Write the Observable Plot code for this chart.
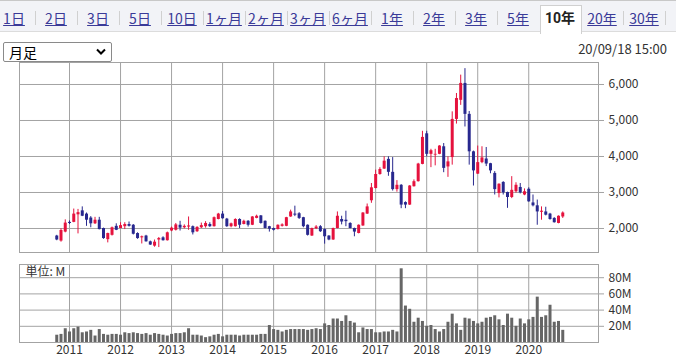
<!DOCTYPE html>
<html><head><meta charset="utf-8">
<script src="https://cdn.jsdelivr.net/npm/d3@7"></script>
<script src="https://cdn.jsdelivr.net/npm/@observablehq/plot@0.6"></script>
<style>
html,body{margin:0;padding:0;background:#fff;}
body{width:676px;height:357px;overflow:hidden;position:relative;font-family:"Noto Sans CJK JP","Noto Sans",sans-serif;color:#333;}
#tabs{position:absolute;left:0;top:0;width:676px;height:32px;background:#f2f3f7;border-top:1px solid #c8c8c8;border-bottom:1px solid #dcdcdc;box-sizing:border-box;}
.tab{position:absolute;top:7px;font-size:14px;color:#3a3a98;text-decoration:underline;transform:translateX(-50%);white-space:nowrap;line-height:20px;}
.sep{position:absolute;top:10px;width:1px;height:14px;background:#d0d0d0;}
#sel{position:absolute;left:3px;top:42px;width:109px;height:20px;border:1px solid #8a8a8a;border-radius:2px;box-sizing:border-box;font-size:14px;line-height:18px;padding-left:5px;color:#000;background:#fff;}
#sel svg{position:absolute;right:5px;top:5px;}
#selTab{position:absolute;left:540px;top:4px;width:42px;height:29px;background:#fff;border:1px solid #d0d0d0;border-bottom:none;box-sizing:border-box;}
#date{position:absolute;right:9px;top:39px;font-size:13px;color:#333;}
#main{position:absolute;left:0;top:57px;}
#vol{position:absolute;left:0;top:259px;}
</style></head>
<body>
<div id="tabs"></div>
<div id="sel">月足<svg width="10" height="8" viewBox="0 0 10 8"><path d="M1 1.5 L5 5.5 L9 1.5" fill="none" stroke="#000" stroke-width="2"/></svg></div>
<div id="date">20/09/18 15:00</div>
<div id="main"></div>
<div id="vol"></div>
<script>
// ---- data ----
const tabLabels = ["1日","2日","3日","5日","10日","1ヶ月","2ヶ月","3ヶ月","6ヶ月","1年","2年","3年","5年","10年","20年","30年"];
const selectedTab = "10年";
const startYear = 2010, startMonth = 10; // first monthly candle: 2010/10
const open  = [1790,1650,1900,2170,2170,2380,2490,2400,2290,2130,2230,2000,
               1690,1810,2060,2000,2050,2110,2090,1860,1740,1790,1630,1510,
               1680,1740,1660,1930,1950,2090,2020,2040,2050,1910,2020,2050,
               2110,2050,2250,2400,2260,2050,2050,2250,2110,2200,2090,2280,
               2350,2200,2050,2000,1970,2060,2060,2320,2400,2410,2300,2090,
               1790,1990,2050,1970,1790,1680,2000,2250,2230,2140,2000,1860,
               2070,2400,2770,3110,3500,3650,3920,3560,3080,3200,2720,2650,
               3160,3300,3780,4630,4060,4040,4060,4270,3710,3970,5030,5560,
               6030,5170,4130,3510,3830,3930,3800,3530,2970,3280,3000,2860,
               3020,3140,2930,3090,2710,2630,2450,2460,2400,2280,2140,2320];
const high  = [1810,1990,2240,2210,2540,2530,2600,2430,2330,2310,2310,2010,
               1870,2040,2130,2160,2160,2180,2110,1880,1790,1810,1650,1680,
               1750,1770,1900,2040,2140,2200,2100,2320,2070,2050,2150,2190,
               2160,2320,2420,2470,2280,2150,2270,2270,2230,2220,2330,2370,
               2360,2210,2060,2010,2100,2130,2310,2510,2620,2440,2310,2100,
               2010,2080,2080,1990,1800,2010,2460,2340,2480,2160,2010,2100,
               2440,2680,3250,3620,3690,3990,3990,3970,3330,3220,2740,3190,
               3350,3810,4700,4700,4200,4200,4300,4360,3990,5240,5750,6260,
               6440,5250,4150,4290,4270,4250,3810,3580,3240,3300,3010,3440,
               3270,3250,3100,3130,2930,2790,2600,2590,2420,2300,2350,2460];
const low   = [1660,1620,1880,2110,2160,1850,2330,2060,2020,2110,1960,1700,
               1600,1790,1940,1990,1970,2040,1820,1700,1570,1620,1530,1480,
               1470,1650,1650,1910,1930,1930,1990,1950,1820,1890,2000,2010,
               2030,2040,2240,2260,2030,2020,2040,2000,2100,2040,2080,2270,
               2120,1990,1900,1930,1960,2040,2050,2310,2330,2250,2020,1790,
               1780,1970,1890,1565,1660,1670,1990,2100,2050,1990,1770,1850,
               2060,2390,2700,3100,3480,3640,3450,3040,3010,2550,2550,2640,
               3150,3290,3770,3990,3690,3740,4050,3550,3420,3760,4900,5420,
               4820,3760,3180,3500,3800,3720,3520,2930,2850,2930,2560,2830,
               2980,2960,2910,2730,2600,2090,2230,2350,2230,2150,2130,2280];
const close = [1680,1945,2150,2140,2400,2440,2340,2230,2130,2230,1970,1720,
               1860,2020,1950,2080,2110,2060,1840,1720,1770,1630,1540,1620,
               1720,1660,1880,2010,2100,2010,2060,2070,1880,2030,2080,2140,
               2050,2300,2400,2270,2050,2130,2250,2090,2200,2090,2320,2340,
               2140,2000,1980,1950,2090,2100,2300,2460,2370,2280,2050,1810,
               2000,2040,1910,1770,1680,2000,2340,2180,2190,2000,1900,2090,
               2430,2600,3130,3500,3640,3870,3560,3080,3200,2650,2650,3180,
               3300,3790,4530,4060,4160,4060,4290,3670,3850,5030,5610,6030,
               5170,4130,3600,3830,3960,3790,3600,3080,3230,2990,2860,3060,
               3200,2990,3020,2740,2630,2460,2480,2370,2250,2160,2340,2430];
const volumeM = [9,10,17,13,17,19,12,13,15,8,16,10,
                 9,10,10,9,12,11,12,11,10,11,9,11,
                 10,9,8,10,11,11,12,17,9,9,8,6,
                 7,9,10,7,9,9,9,8,9,9,9,9,
                 10,10,21,16,15,13,15,16,16,16,16,15,
                 16,17,16,23,21,29,29,26,33,26,24,12,
                 18,16,16,12,12,13,13,15,13,91,45,41,
                 25,30,26,20,21,16,13,16,25,35,23,15,
                 30,29,26,23,25,30,31,33,28,21,35,30,
                 20,29,23,28,31,56,31,33,46,25,26,15];
const priceTicks = [2000,3000,4000,5000,6000];
const volumeTicks = [20,40,60,80];
const yearTicks = [2011,2012,2013,2014,2015,2016,2017,2018,2019,2020];
const volumeUnit = "単位: M";

// ---- header ----
const tabs = document.getElementById("tabs");
tabs.insertAdjacentHTML("beforeend", '<div id="selTab"></div>');
tabLabels.forEach((t, i) => {
  const cx = 14 + 42 * i;
  const el = document.createElement("div");
  el.className = "tab";
  el.style.left = cx + "px";
  el.textContent = t;
  if (t === selectedTab) { el.style.fontWeight = "bold"; el.style.textDecoration = "none"; el.style.color = "#222"; el.style.fontFamily = "Roboto,'Noto Sans CJK JP',sans-serif"; }
  tabs.appendChild(el);
  if (t !== selectedTab && tabLabels[i+1] !== selectedTab) {
    const s = document.createElement("div");
    s.className = "sep";
    s.style.left = (cx + 21) + "px";
    tabs.appendChild(s);
  }
});

// ---- table ----
const rows = open.map((o, i) => {
  const mi = startMonth - 1 + i;
  return {t: startYear + mi / 12, open: o, high: high[i], low: low[i], close: close[i], vol: volumeM[i]};
});
const RED = "#e5123d", NAVY = "#28288e", GRID = "#a3a3a3";
const xDomain = [2010.02, 2021.367];
const style = {fontFamily: "'Noto Sans CJK JP','Noto Sans',sans-serif", fontSize: "12px", color: "#333", background: "transparent", overflow: "visible"};
const col = d => d.close >= d.open ? RED : NAVY;

const main = Plot.plot({
  width: 676, height: 200, marginLeft: 19, marginRight: 78, marginTop: 5, marginBottom: 5,
  style,
  x: {domain: xDomain, axis: null},
  y: {domain: [1333, 6611], axis: null},
  color: {type: "identity"},
  marks: [
    Plot.gridY(priceTicks, {stroke: GRID, strokeOpacity: 1}),
    Plot.gridX(yearTicks, {stroke: GRID, strokeOpacity: 1}),
    Plot.axisY(priceTicks, {anchor: "right", tickSize: 5, tickPadding: 5, stroke: GRID, fill: "#333", tickFormat: d3.format(","), label: null}),
    Plot.frame({stroke: GRID}),
    Plot.ruleX(rows, {x: "t", y1: "low", y2: "high", stroke: col, strokeWidth: 1}),
    Plot.ruleX(rows, {x: "t", y1: "open", y2: "close", stroke: col, strokeWidth: 3})
  ]
});
document.getElementById("main").appendChild(main);

const vol = Plot.plot({
  width: 676, height: 98, marginLeft: 19, marginRight: 78, marginTop: 5, marginBottom: 15,
  style,
  x: {domain: xDomain, axis: null},
  y: {domain: [0, 96.3], axis: null},
  marks: [
    Plot.gridY(volumeTicks, {stroke: GRID, strokeOpacity: 1}),
    Plot.gridX(yearTicks, {stroke: GRID, strokeOpacity: 1}),
    Plot.axisY(volumeTicks, {anchor: "right", tickSize: 5, tickPadding: 5, stroke: GRID, fill: "#333", tickFormat: d => d + "M", label: null}),
    Plot.axisX(yearTicks, {anchor: "bottom", tickSize: 0, tickPadding: 3, fill: "#333", tickFormat: d => String(d), label: null}),
    Plot.frame({stroke: GRID}),
    Plot.ruleX(rows, {x: "t", y: "vol", stroke: "#666", strokeWidth: 3}),
    Plot.text([volumeUnit], {frameAnchor: "top-left", dx: 6, dy: 3, textAnchor: "start", lineAnchor: "top", fill: "#333"})
  ]
});
document.getElementById("vol").appendChild(vol);
</script>
</body></html>
